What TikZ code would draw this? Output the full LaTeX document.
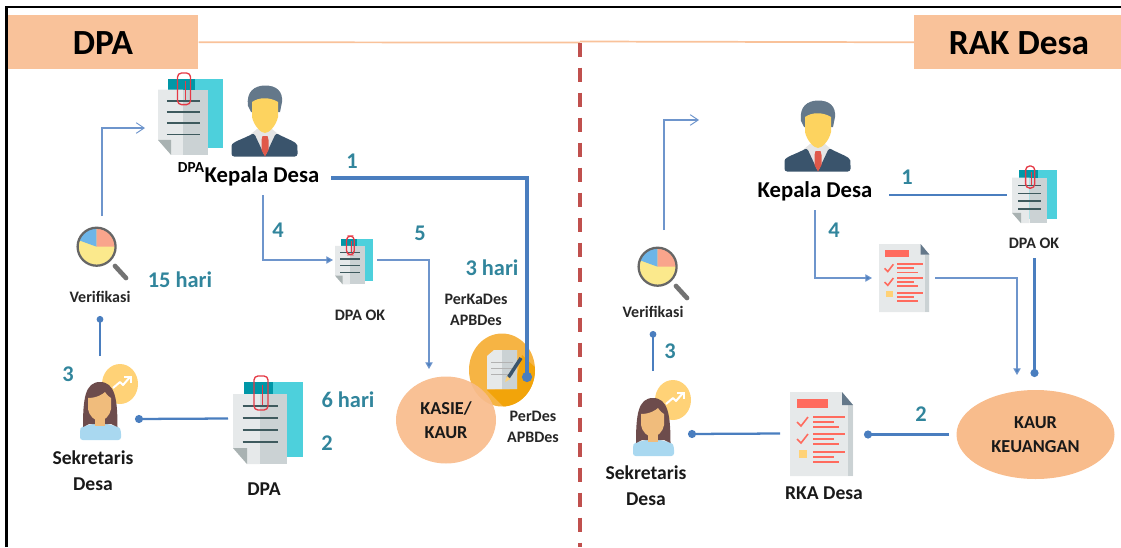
\documentclass[tikz,border=0pt]{standalone}
\usepackage{fontspec}
\setmainfont{Carlito}
\usetikzlibrary{arrows.meta,shapes.geometric}
\definecolor{peach}{HTML}{F9C29A}
\definecolor{peachb}{HTML}{F8BC8C}
\definecolor{wire}{HTML}{4A7EBF}
\definecolor{wirel}{HTML}{6E95CC}
\definecolor{steplabel}{HTML}{31859C}
\definecolor{redd}{HTML}{C0504D}
\definecolor{slate}{HTML}{64788A}
\definecolor{facey}{HTML}{FDD35F}
\definecolor{navy}{HTML}{3A546C}
\definecolor{tier}{HTML}{E0594A}
\definecolor{sunny}{HTML}{FFD277}
\definecolor{shirt}{HTML}{A9D8F0}
\definecolor{hairw}{HTML}{6D4C4C}
\definecolor{skin}{HTML}{F0BC7C}
\definecolor{lemon}{HTML}{FBE98C}
\definecolor{skyb}{HTML}{6DB5E8}
\definecolor{salmon}{HTML}{F9A58C}
\definecolor{coral}{HTML}{FF6B5E}
\definecolor{ambera}{HTML}{F6B444}
\definecolor{amberb}{HTML}{F2A40A}
\definecolor{tealb}{HTML}{4DD0DC}
\definecolor{teald}{HTML}{0097A7}
\definecolor{pagea}{HTML}{E6E9EA}
\definecolor{pageb}{HTML}{CBD2D4}
\definecolor{pagec}{HTML}{A9B2B2}
\definecolor{docline}{HTML}{3E5A5E}
\definecolor{clipred}{HTML}{E53945}
\tikzset{
  x=0.75pt,y=-0.75pt,
  title/.style={font=\bfseries\fontsize{26.5}{32}\selectfont,inner sep=0pt},
  role/.style={font=\bfseries\fontsize{17}{20}\selectfont,inner sep=0pt},
  name2/.style={font=\bfseries\fontsize{14.7}{19.5}\selectfont,inner sep=0pt,align=center,text=black!90},
  capt/.style={font=\bfseries\fontsize{12}{15.6}\selectfont,inner sep=0pt,align=center,text=black!85},
  smalltxt/.style={font=\bfseries\fontsize{11.5}{13}\selectfont,inner sep=0pt},
  num/.style={font=\bfseries\fontsize{16.8}{19}\selectfont,inner sep=0pt,text=steplabel},
  inoval/.style={font=\bfseries\fontsize{13.7}{18}\selectfont,inner sep=0pt,align=center,text=black!90,ellipse,fill=peachb},
  thinarrow/.style={draw=wirel,line width=0.8pt,-{Straight Barb[length=6pt,width=8pt,line width=0.7pt]}},
  fillarrow/.style={draw=wirel,line width=0.8pt,-{Triangle[length=5pt,width=5.5pt,fill=wire]}},
  dotline/.style={draw=wire,line width=1.7pt,-{Circle[length=6pt,width=6pt]}},
  bigdot/.style={draw=wire,line width=2.3pt,-{Circle[length=7.5pt,width=7.5pt]}},
  smalldot/.style={draw=wire,line width=1.3pt,-{Circle[length=5pt,width=5pt]}},
  thickline/.style={draw=wire,line width=1.7pt},
  clipdoc/.pic={
    \fill[tealb] (11,6) rectangle (69.5,81);
    \fill[teald] (11,6) rectangle (40,18);
    \fill[pagea] (0,18) -- (27,18) -- (27,88) -- (14,88) -- (0,72) -- cycle;
    \fill[pageb] (27,18) -- (54,18) -- (54,88) -- (27,88) -- cycle;
    \fill[pagec] (0,72) -- (14,72) -- (14,88) -- cycle;
    \foreach \yy in {30,42,54,66}
      \draw[line width=1.1pt,draw=docline] (9.5,\yy) -- (45,\yy);
    \draw[line width=1pt,draw=clipred,rounded corners=3pt] (21,0) rectangle (35,34);
    \draw[line width=1pt,draw=clipred] (29.5,9) -- (29.5,29);
  },
  manicon/.pic={
    \fill[slate] (17,20) .. controls (15,5) and (24,0) .. (33,-0.5) .. controls (46,-1) and (52,6) .. (51,16) -- (49,26) -- (20,26) -- cycle;
    \fill[black!10] (20,48) -- (26,43) -- (41,43) -- (47,48) -- (38,68) -- (29,68) -- cycle;
    \fill[facey] (21,16) .. controls (28,11) and (39,11) .. (47,16) -- (47,31) .. controls (45,40) and (38,47) .. (34,47) .. controls (30,47) and (23,40) .. (21,31) -- cycle;
    \fill[navy,rounded corners=2pt] (0.5,70.5) -- (0.5,62) .. controls (1,56) and (12,53) .. (23,47) -- (34,70.5) -- (45,47) .. controls (56,53) and (66,56) .. (66.5,62) -- (66.5,70.5) -- cycle;
    \fill[tier] (31.5,50) -- (36.5,50) -- (37.5,54) -- (37.5,64) -- (34,70.5) -- (30.5,64) -- (30.5,54) -- cycle;
  },
  womanicon/.pic={
    \fill[sunny] (41,20) ellipse [x radius=18,y radius=20];
    \draw[white,line width=1.5pt,line join=round] (34,24) -- (41,18) -- (44,21) -- (51,13);
    \draw[white,line width=1.5pt] (45,12.5) -- (52,12.5) -- (52,19);
    \fill[shirt,rounded corners=2pt] (1,76) -- (1,67) .. controls (2,62) and (12,61) .. (21,58) .. controls (30,61) and (40,62) .. (42,67) -- (42,76) -- cycle;
    \fill[hairw] (4,63) .. controls (4,35) and (6,18) .. (21,18) .. controls (36,18) and (38.5,35) .. (38.5,63) -- (32,60) -- (10,60) -- cycle;
    \fill[skin] (16,52) rectangle (26,62);
    \fill[skin] (9,34) .. controls (18,34) and (24,30) .. (26,28) .. controls (28,31) and (30,33) .. (32,34) -- (32,45) .. controls (31,52) and (25,57) .. (20.5,57) .. controls (16,57) and (10,52) .. (9,45) -- cycle;
  },
  lensicon/.pic={
    \draw[line width=3.5pt,draw=black!55,line cap=round] (38,39) -- (49,51);
    \fill[lemon] (19.6,19.7) circle [radius=19];
    \fill[skyb] (19.6,19.7) -- (19.6,0.7) arc [start angle=-90,end angle=-160,radius=19] -- cycle;
    \fill[salmon] (19.6,19.7) -- (19.6,0.7) arc [start angle=-90,end angle=0,radius=19] -- cycle;
    \draw[line width=1.7pt,draw=black!60] (19.6,19.7) circle [radius=19];
  },
  checkicon/.pic={
    \fill[pagea] (0,0) -- (52,0) -- (63,13) -- (63,84) -- (0,84) -- cycle;
    \fill[pageb] (58,13) rectangle (63,84);
    \fill[slate] (52,0) -- (63,13) -- (52,13) -- cycle;
    \fill[coral] (7,7) rectangle (38,16);
    \foreach \yy in {24,41,59} {
      \fill[coral] (23,\yy) rectangle (55,\yy+2.4);
      \fill[coral] (23,\yy+5) rectangle (44,\yy+7.4);
      \fill[coral] (23,\yy+10) rectangle (49,\yy+12.4);
    }
    \foreach \yy in {24,41}
      \draw[line width=1.2pt,draw=coral] (7,\yy+6) -- (11,\yy+10) -- (18,\yy+1);
    \fill[sunny] (9,58) rectangle (17,66);
  },
}
\begin{document}
\begin{tikzpicture}
\useasboundingbox (0,0) rectangle (1121,547);
% frame
\draw[line width=2pt] (6.5,547) -- (6.5,7) -- (1121,7);
% header rules
\coordinate (midL) at (580,42.5);
\coordinate (midR) at (580,41.5);
\coordinate (dashEnd) at (580,547);
\node[fill=peach,minimum width=142.5pt,minimum height=40.5pt,inner sep=0pt,anchor=north west] (dpaBox) at (8,15) {};
\node[fill=peach,minimum width=155.25pt,minimum height=40.5pt,inner sep=0pt,anchor=north west] (rakBox) at (914,15) {};
\node[title] (dpaTitle) at (103,43) {DPA};
\node[title] (rakTitle) at (1019,43) {RAK Desa};
\draw[peach,line width=1.3pt] (dpaBox.east) -- (midL);
\draw[peach,line width=1.3pt] (midR) -- (rakBox.west);
\draw[redd,line width=2.3pt,dash pattern=on 11pt off 7.75pt] (midL) -- (dashEnd);
% left icons
\pic (docTop) [scale=.93] at (158,73) {clipdoc};
\pic (manL) at (231,86) {manicon};
\pic (docOk) [scale=.55] at (335,236) {clipdoc};
\pic (docBig) at (233,376) {clipdoc};
\pic (womL) at (79,364) {womanicon};
\pic (lensL) at (77,227) {lensicon};
% orange circle + doc
\begin{scope}
\fill[ambera] (502,370) ellipse [x radius=33,y radius=36.5];
\clip (502,370) ellipse [x radius=33,y radius=36.5];
\fill[amberb] (487,390) -- (505,408) -- (540,408) -- (540,372) -- (522,355) -- (517,375) -- (517,389) -- cycle;
\end{scope}
\fill[pagea] (487,356) -- (494,350) -- (517,350) -- (517,389) -- (487,389) -- cycle;
\fill[pageb] (502,350) rectangle (517,389);
\foreach \yy in {362,368,374} \draw[black!30,line width=.4pt] (491,\yy) -- (513,\yy);
\draw[navy,line width=2.6pt] (521,358) -- (508,378);
\fill[sunny] (507,376) -- (510.5,379) -- (505,382) -- cycle;
\node[inoval,fill opacity=.92,text opacity=1,minimum width=75pt,minimum height=65.25pt] (kasie) at (446,420) {KASIE/\\KAUR};
% left labels
\node[smalltxt] (dpaSmall) at (191,168) {DPA};
\node[role] (kepL) at (262,176) {Kepala Desa};
\node[capt] (verL) at (100,297) {Verifikasi};
\node[capt] (okL) at (360,315) {DPA OK};
\node[capt] (perka) at (476,309.5) {PerKaDes\\APBDes};
\node[capt] (perdes) at (533,426.5) {PerDes\\APBDes};
\node[name2] (sekL) at (93,471) {Sekretaris\\Desa};
\node[name2] (dpaLow) at (264,489) {DPA};
\node[num] (n1L) at (352,161) {1};
\node[num] (n4L) at (278,230) {4};
\node[num] (n5L) at (420,233) {5};
\node[num] (n3h) at (492,268) {3 hari};
\node[num] (n15h) at (180,280) {15 hari};
\node[num] (n3L) at (68,374) {3};
\node[num] (n6h) at (348,400) {6 hari};
\node[num] (n2L) at (327,443) {2};
% left connectors
\coordinate (a1) at (102,216); \coordinate (a2) at (102,128); \coordinate (a3) at (145,128);
\draw[thinarrow] (a1) -- (a2) -- (a3);
\coordinate (b1) at (331,178); \coordinate (b2) at (527,178); \coordinate (b3) at (527,382);
\draw[bigdot] (b1) -- (b2) -- (b3);
\coordinate (c1) at (263,195); \coordinate (c2) at (263,260); \coordinate (c3) at (333,260);
\draw[fillarrow] (c1) -- (c2) -- (c3);
\coordinate (d1) at (377,260); \coordinate (d2) at (429,260); \coordinate (d3) at (429,369);
\draw[fillarrow] (d1) -- (d2) -- (d3);
\coordinate (e1) at (100,356); \coordinate (e2) at (100,316);
\draw[smalldot] (e1) -- (e2);
\coordinate (f1) at (228,418.5); \coordinate (f2) at (135,419);
\draw[dotline] (f1) -- (f2);
% right icons
\pic (manR) at (784,101) {manicon};
\pic (docR) [scale=.65] at (1012,166) {clipdoc};
\pic (chkS) [xscale=.8,yscale=.81] at (879,244) {checkicon};
\pic (chkB) at (790,392) {checkicon};
\pic (womR) at (632,380) {womanicon};
\pic (lensR) at (638,247) {lensicon};
\node[inoval,minimum width=118.5pt,minimum height=66.75pt] (kaur) at (1035.5,434.5) {KAUR\\KEUANGAN};
% right labels
\node[role] (kepR) at (815,191) {Kepala Desa};
\node[capt] (okR) at (1034,243) {DPA OK};
\node[capt] (verR) at (653,312) {Verifikasi};
\node[name2] (sekR) at (646,486) {Sekretaris\\Desa};
\node[name2] (rka) at (824,493) {RKA Desa};
\node[num] (n1R) at (907,177) {1};
\node[num] (n4R) at (834,230) {4};
\node[num] (n3R) at (670,351) {3};
\node[num] (n2R) at (921,414) {2};
% right connectors
\coordinate (g1) at (664,230); \coordinate (g2) at (664,120); \coordinate (g3) at (699,120);
\draw[thinarrow] (g1) -- (g2) -- (g3);
\coordinate (h1) at (889,195); \coordinate (h2) at (1007,195);
\draw[thickline] (h1) -- (h2);
\coordinate (i1) at (815,210); \coordinate (i2) at (815,278); \coordinate (i3) at (872,278);
\draw[fillarrow] (i1) -- (i2) -- (i3);
\coordinate (j1) at (935,278); \coordinate (j2) at (1017,278); \coordinate (j3) at (1017,375);
\draw[fillarrow] (j1) -- (j2) -- (j3);
\coordinate (k1) at (1034.5,258); \coordinate (k2) at (1034.5,377);
\draw[dotline] (k1) -- (k2);
\coordinate (l1) at (949,434.5); \coordinate (l2) at (864,434.5);
\draw[dotline] (l1) -- (l2);
\coordinate (m1) at (780,433.5); \coordinate (m2) at (688,434);
\draw[dotline] (m1) -- (m2);
\coordinate (o1) at (653,371); \coordinate (o2) at (653,331);
\draw[smalldot] (o1) -- (o2);
\end{tikzpicture}
\end{document}
